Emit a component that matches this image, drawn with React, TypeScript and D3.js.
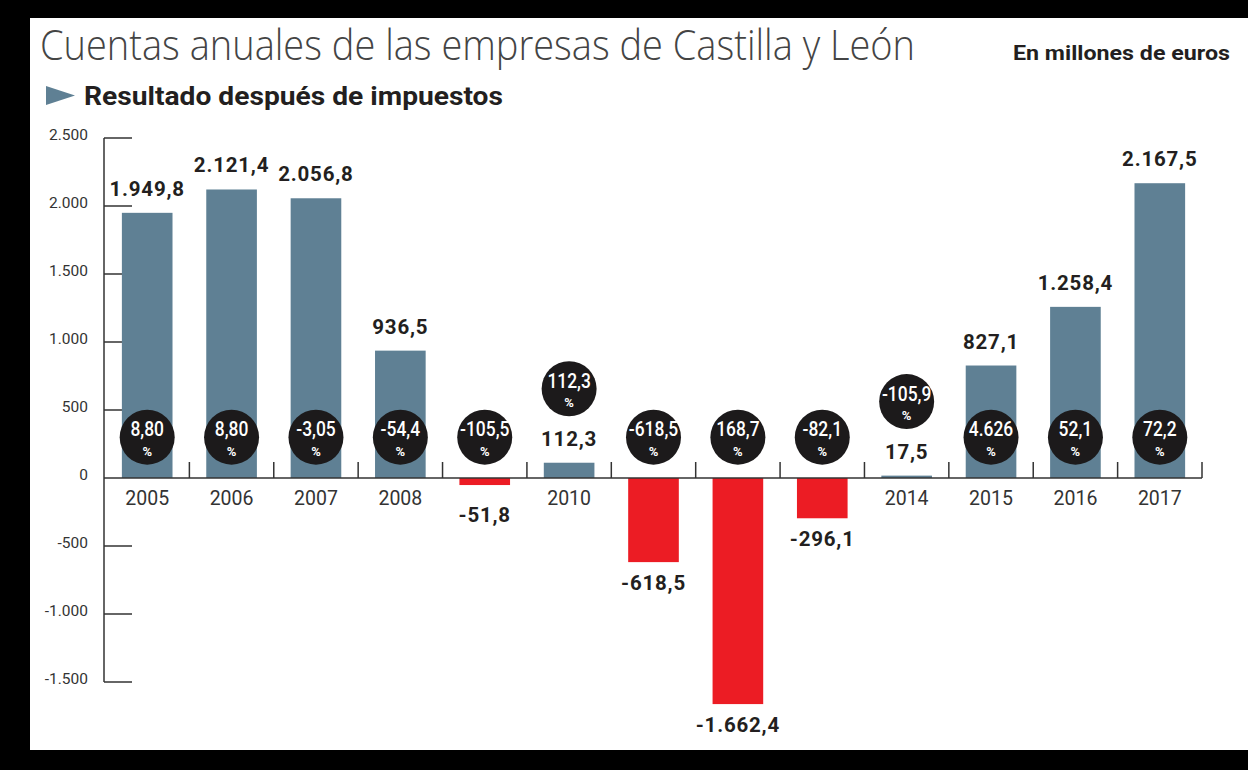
import React from "react";
import * as d3 from "d3";

const years = ["2005","2006","2007","2008","2009","2010","2011","2012","2013","2014","2015","2016","2017"];
const results = [1949.8, 2121.4, 2056.8, 936.5, -51.8, 112.3, -618.5, -1662.4, -296.1, 17.5, 827.1, 1258.4, 2167.5];
const changeLabels = ["8,80","8,80","-3,05","-54,4","-105,5","112,3","-618,5","168,7","-82,1","-105,9","4.626","52,1","72,2"];
const yTicks = [-1500, -1000, -500, 0, 500, 1000, 1500, 2000, 2500];

const TITLE = "Cuentas anuales de las empresas de Castilla y León";
const SUBTITLE = "Resultado después de impuestos";
const UNITS = "En millones de euros";

const W = 1248, H = 770;
const BLUE = "#5f8094";
const RED = "#ec1c24";
const DARK = "#231f20";
const FONT = "Roboto, 'Noto Sans', sans-serif";

const locale = d3.formatLocale({ decimal: ",", thousands: ".", grouping: [3], currency: ["", "€"], minus: "-" });
const fmt1 = locale.format(",.1f");
const fmt0 = locale.format(",.0f");

export default function App() {
  const x = d3.scaleBand<string>().domain(years).range([105, 1202]).paddingInner(0.4).paddingOuter(0.2);
  const y = d3.scaleLinear().domain([-1500, 2500]).range([682, 138]);
  const y0 = y(0);
  const circleBaseY = y(300);
  const bw = x.bandwidth();
  const step = x.step();

  return (
    <svg width={W} height={H} style={{ position: "absolute", left: 0, top: 0, background: "#000" }}>
      <rect x={30} y={18} width={W - 30} height={732} fill="#fff" />
      {/* titles */}
      <text x={40} y={60} fontFamily="'Open Sans', sans-serif" fontWeight={300} fontSize={42} fill="#444"
        textLength={875} lengthAdjust="spacingAndGlyphs">{TITLE}</text>
      <text x={1230} y={60} textAnchor="end" fontFamily={FONT} fontWeight={700} fontSize={19.5} fill={DARK}
        textLength={217} lengthAdjust="spacingAndGlyphs">{UNITS}</text>
      <path d="M46,86 L75,95.5 L46,105 Z" fill={BLUE} />
      <text x={84} y={105} fontFamily={FONT} fontWeight={700} fontSize={25} fill={DARK}
        textLength={419} lengthAdjust="spacingAndGlyphs">{SUBTITLE}</text>

      {/* y axis */}
      <line x1={104} x2={104} y1={y(2500)} y2={y(-1500)} stroke="#333" strokeWidth={1.5} />
      {yTicks.map((t) => (
        <g key={t}>
          {t !== 0 && <line x1={104} x2={132} y1={y(t)} y2={y(t)} stroke="#333" strokeWidth={1.5} />}
          <text x={88} y={y(t) + 2} textAnchor="end" fontFamily={FONT} fontSize={15.5} fill="#333">{fmt0(t)}</text>
        </g>
      ))}

      {/* bars */}
      {years.map((yr, i) => {
        const v = results[i];
        const bx = x(yr)!;
        return (
          <rect key={yr} x={bx} width={bw} y={v >= 0 ? y(v) : y0} height={Math.abs(y(v) - y0)} fill={v >= 0 ? BLUE : RED} />
        );
      })}

      {/* baseline and dividers */}
      <line x1={104} x2={1202} y1={y0} y2={y0} stroke="#333" strokeWidth={1.5} />
      {years.map((yr) => {
        const bx = x(yr)! + bw / 2 + step / 2;
        return <line key={"d" + yr} x1={bx} x2={bx} y1={y0} y2={y0 - 16} stroke="#333" strokeWidth={1.5} />;
      })}

      {/* year labels */}
      {years.map((yr, i) => results[i] >= 0 ? (
        <text key={"y" + yr} x={x(yr)! + bw / 2} y={505} textAnchor="middle" fontFamily={FONT} fontSize={19.5} fill="#333">{yr}</text>
      ) : null)}

      {/* value labels and circles */}
      {years.map((yr, i) => {
        const v = results[i];
        const cx = x(yr)! + bw / 2;
        const labelY = v >= 0 ? y(v) - 17 : Math.max(y(v) + 28, 522);
        const cy = v > 450 || v <= 0 ? circleBaseY : labelY - 57;
        return (
          <g key={"l" + yr}>
            <text x={cx} y={labelY} textAnchor="middle" fontFamily={FONT} fontWeight={700} fontSize={20.5}
              letterSpacing={0.8} fill={DARK}>{fmt1(v)}</text>
            <circle cx={cx} cy={cy} r={27.5} fill="#1c1a1b" />
            <text transform={`translate(${cx},${cy - 1}) scale(0.85,1)`} textAnchor="middle" fontFamily={FONT}
              fontWeight={500} fontSize={20.5} fill="#fff">{changeLabels[i]}</text>
            <text x={cx} y={cy + 18.5} textAnchor="middle" fontFamily={FONT} fontWeight={700} fontSize={13} fill="#fff">%</text>
          </g>
        );
      })}
    </svg>
  );
}
